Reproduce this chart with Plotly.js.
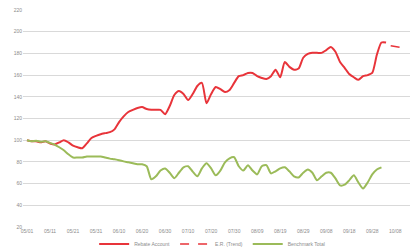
<!DOCTYPE html>
<html>
<head>
<meta charset="utf-8">
<script src="https://cdn.plot.ly/plotly-3.0.1.min.js"></script>
<style>html,body{margin:0;padding:0;background:#fff;}#chart{width:416px;height:250px;}</style>
</head>
<body>
<div id="chart"></div>
<script>
// Tick labels (every 5th point)
const tickLabels = ["05/01","05/11","05/21","05/31","06/10","06/20","06/30","07/10","07/20","07/30","08/09","08/19","08/29","09/08","09/18","09/28","10/08"];

// Series values (index 100 at start)
const accountValues = [100,99,99,98,99,97,96,98,100,98,95,93.5,92.6,97,102,104,105.5,106.5,107.4,110,
  116.7,122,126,128,129.6,130.5,128.7,128,128,128,124,131.5,141.7,145.4,142.6,137,142.6,150,152.8,134,
  142.6,149,147,144.4,146.3,152.8,159,160,162,162,159,157.4,156.5,159,165,158,172,167.6,165,166,
  176,179.6,180.5,180.5,180.5,183,186,181.5,172,166.7,161,158,155.6,159,160,162,178.7,190,190];
const trendValues = [187,186.5,186,185];   // dashed continuation
const trendStart = 79;
const benchmarkValues = [100,99,99.5,98.5,99,97.5,96,93.5,90.7,87,84,84,84,85,85,85,85,84,83,82.4,
  81.5,80.5,79.6,78.7,77.8,77.8,76,64,66.7,72,74,70,65,70,75,76,71,66.7,74,78.7,
  74,67.6,72,79.6,83.3,84.3,76,72,77,72,68.5,76,77,69.4,71.3,74,75,71.3,66.7,65.7,
  70,73,70,63,66.7,70,70,64.8,58.3,59,63,67.6,61,55.5,61,68.5,73,75];

const seriesNames = ["Rebate Account","E.R. (Trend)","Benchmark Total"];

const idx = (arr, start) => arr.map((_, i) => i + (start || 0));
const tickVals = tickLabels.map((_, i) => i * 5);

const traces = [
  {x: idx(accountValues), y: accountValues, name: seriesNames[0], mode: "lines",
   line: {color: "#e8343a", width: 2, shape: "spline", smoothing: 0.6}},
  {x: idx(trendValues, trendStart), y: trendValues, name: seriesNames[1], mode: "lines",
   line: {color: "#e8343a", width: 1.5, dash: "dash"}},
  {x: idx(benchmarkValues), y: benchmarkValues, name: seriesNames[2], mode: "lines",
   line: {color: "#9bbb59", width: 2, shape: "spline", smoothing: 0.6}}
];

const layout = {
  width: 416, height: 250,
  margin: {l: 23, r: 6, t: 10, b: 23},
  paper_bgcolor: "#ffffff", plot_bgcolor: "#ffffff",
  font: {family: "Liberation Sans, Arial, sans-serif", size: 5, color: "#8c8c8c"},
  xaxis: {range: [-0.87, 83.2], tickvals: tickVals, ticktext: tickLabels, showgrid: false,
          zeroline: false, showline: false, ticks: "", automargin: false, tickfont: {size: 5, color: "#8c8c8c"}},
  yaxis: {range: [20, 220], dtick: 20, tick0: 20, showgrid: true, gridcolor: "#d9d9d9", gridwidth: 1,
          zeroline: false, showline: false, ticks: "", automargin: false, tickfont: {size: 5, color: "#8c8c8c"}},
  showlegend: true,
  legend: {orientation: "h", x: 0.51, xanchor: "center", xref: "container", yref: "container",
           y: 0.024, yanchor: "middle", bgcolor: "rgba(0,0,0,0)",
           font: {size: 5, color: "#8c8c8c"}, itemwidth: 30, tracegroupgap: 0}
};

Plotly.newPlot("chart", traces, layout, {displayModeBar: false, staticPlot: true});
</script>
</body>
</html>
